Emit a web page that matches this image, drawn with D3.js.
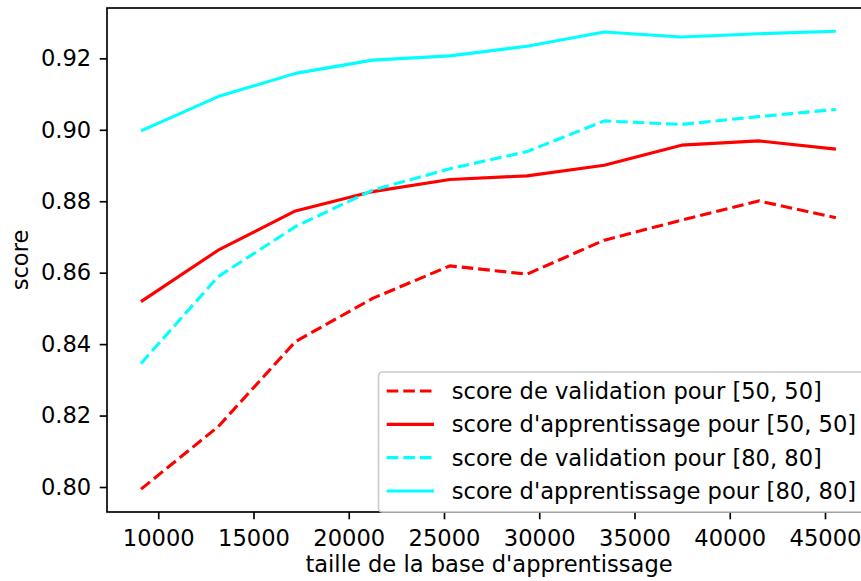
<!DOCTYPE html>
<html>
<head>
<meta charset="utf-8">
<script src="https://cdn.jsdelivr.net/npm/d3@7"></script>
<style>
  html, body { margin: 0; padding: 0; background: #fff; }
  svg { display: block; font-family: "DejaVu Sans", sans-serif; }
</style>
</head>
<body>
<svg id="chart" width="861" height="581"></svg>
<script>
// Training-set sizes (x axis)
const tailles = [9094, 13147, 17200, 21253, 25306, 29359, 33412, 37465, 41518, 45571];

// Scores per network configuration
const valid5050 = [0.7994, 0.8169, 0.8407, 0.8528, 0.8619, 0.8596, 0.8691, 0.8747, 0.8801, 0.8754];
const appr5050  = [0.8519, 0.8663, 0.8773, 0.8827, 0.8861, 0.8871, 0.8901, 0.8957, 0.8969, 0.8946];
const valid8080 = [0.8346, 0.8589, 0.8729, 0.8831, 0.8891, 0.8939, 0.9025, 0.9015, 0.9037, 0.9057];
const appr8080  = [0.8997, 0.9093, 0.9158, 0.9195, 0.9207, 0.9234, 0.9274, 0.9260, 0.9269, 0.9276];

// Axis ticks
const xTicks = [10000, 15000, 20000, 25000, 30000, 35000, 40000, 45000];
const yTicks = [0.80, 0.82, 0.84, 0.86, 0.88, 0.90, 0.92];

const seriesLabels = [
  "score de validation pour [50, 50]",
  "score d'apprentissage pour [50, 50]",
  "score de validation pour [80, 80]",
  "score d'apprentissage pour [80, 80]"
];

const series = [
  { label: seriesLabels[0], values: valid5050, color: "#ff0000", dashed: true },
  { label: seriesLabels[1], values: appr5050,  color: "#ff0000", dashed: false },
  { label: seriesLabels[2], values: valid8080, color: "#00ffff", dashed: true },
  { label: seriesLabels[3], values: appr8080,  color: "#00ffff", dashed: false }
];

const plot = { left: 107, right: 871, top: 8, bottom: 512 };
const fontSize = 22.6;
const dash = "11.6,5";

const svg = d3.select("#chart");

const x = d3.scaleLinear().domain([7310, 47415]).range([plot.left, plot.right]);
const y = d3.scaleLinear().domain([0.7930, 0.9341]).range([plot.bottom, plot.top]);

// Lines
const line = d3.line().x((d, i) => x(tailles[i])).y(d => y(d));

const lines = svg.append("g");
series.forEach(s => {
  lines.append("path")
    .datum(s.values)
    .attr("d", line)
    .attr("fill", "none")
    .attr("stroke", s.color)
    .attr("stroke-width", 3.1)
    .attr("stroke-linejoin", "round")
    .attr("stroke-linecap", "butt")
    .attr("stroke-dasharray", s.dashed ? dash : null);
});

// Axes
const xAxis = d3.axisBottom(x).tickValues(xTicks).tickFormat(d3.format("d")).tickSize(7.3).tickPadding(7);
const yAxis = d3.axisLeft(y).tickValues(yTicks).tickFormat(d3.format(".2f")).tickSize(7.3).tickPadding(8.5);

const gx = svg.append("g").attr("transform", `translate(0,${plot.bottom})`).call(xAxis);
const gy = svg.append("g").attr("transform", `translate(${plot.left},0)`).call(yAxis);

[gx, gy].forEach(g => {
  g.select(".domain").remove();
  g.selectAll(".tick line").attr("stroke", "#000").attr("stroke-width", 1.67);
  g.selectAll(".tick text")
    .attr("fill", "#000")
    .style("font-family", "DejaVu Sans")
    .style("font-size", fontSize + "px");
});
gx.selectAll(".tick text").attr("dy", null).attr("y", 33.7);

// Spines
const spines = svg.append("g").attr("stroke", "#000").attr("stroke-width", 1.67).attr("fill", "none");
spines.append("rect")
  .attr("x", plot.left)
  .attr("y", plot.top)
  .attr("width", plot.right - plot.left)
  .attr("height", plot.bottom - plot.top);

// Axis titles
svg.append("text")
  .attr("x", (plot.left + plot.right) / 2)
  .attr("y", 572)
  .attr("text-anchor", "middle")
  .style("font-size", fontSize + "px")
  .text("taille de la base d'apprentissage");

svg.append("text")
  .attr("transform", `translate(28,${(plot.top + plot.bottom) / 2}) rotate(-90)`)
  .attr("text-anchor", "middle")
  .style("font-size", fontSize + "px")
  .text("score");

// Legend
const legend = svg.append("g");
legend.append("rect")
  .attr("x", 378.5)
  .attr("y", 372)
  .attr("width", 520)
  .attr("height", 140)
  .attr("rx", 4)
  .attr("fill", "#fff")
  .attr("fill-opacity", 0.8)
  .attr("stroke", "#cccccc")
  .attr("stroke-width", 1.67);

const rowY = d3.scaleLinear().domain([0, 3]).range([391, 491]);
series.forEach((s, i) => {
  const yy = rowY(i);
  legend.append("line")
    .attr("x1", 386.7).attr("x2", 434)
    .attr("y1", yy).attr("y2", yy)
    .attr("stroke", s.color)
    .attr("stroke-width", 3.1)
    .attr("stroke-dasharray", s.dashed ? dash : null);
  legend.append("text")
    .attr("x", 451.7)
    .attr("y", yy)
    .attr("dy", "0.35em")
    .style("font-size", fontSize + "px")
    .text(s.label);
});
</script>
</body>
</html>
